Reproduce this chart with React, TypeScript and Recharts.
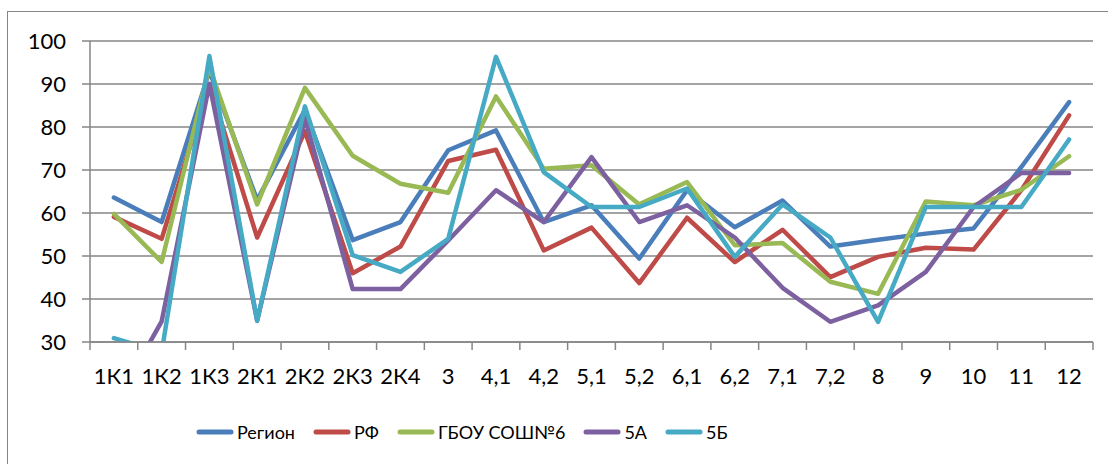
import { LineChart, Line, XAxis, YAxis, CartesianGrid, Legend } from "recharts";

const categories = [
  "1К1", "1К2", "1К3", "2К1", "2К2", "2К3", "2К4", "3", "4,1", "4,2", "5,1",
  "5,2", "6,1", "6,2", "7,1", "7,2", "8", "9", "10", "11", "12",
];

const region = [63.6, 57.9, 93, 63, 84, 53.7, 57.9, 74.6, 79.2, 57.9, 61.8, 49.4, 65.3, 56.7, 62.9, 52.2, 53.8, 55.2, 56.4, 70.7, 85.8];
const rf = [59.1, 54.0, 90, 54.3, 79, 46, 52.2, 72.1, 74.7, 51.3, 56.6, 43.7, 58.9, 48.6, 56.1, 45.1, 49.8, 51.9, 51.5, 65.3, 82.7];
const school = [59.8, 48.6, 94, 62, 89.1, 73.3, 66.8, 64.7, 87.1, 70.3, 71.1, 62, 67.2, 52.5, 53, 44, 41.2, 62.7, 61.8, 65.4, 73.2];
const class5a = [15, 34.8, 90, 35, 82, 42.3, 42.3, 53.6, 65.3, 57.9, 73, 57.9, 61.8, 54.3, 42.6, 34.7, 38.5, 46.3, 61.4, 69.3, 69.3];
const class5b = [30.9, 27.6, 96.5, 34.9, 84.8, 50.2, 46.3, 54, 96.3, 69.5, 61.4, 61.4, 65.7, 49.8, 62, 54.3, 34.7, 61.4, 61.4, 61.4, 77.1];

const yTicks = [30, 40, 50, 60, 70, 80, 90, 100];

const series = [
  { key: "region", name: "Регион", color: "#4A7EBB", values: region },
  { key: "rf", name: "РФ", color: "#BE4B48", values: rf },
  { key: "school", name: "ГБОУ СОШ№6", color: "#98B954", values: school },
  { key: "a", name: "5А", color: "#7D60A0", values: class5a },
  { key: "b", name: "5Б", color: "#46AAC5", values: class5b },
];

const data = categories.map((cat, i) => {
  const row: Record<string, string | number> = { cat };
  series.forEach((s) => (row[s.key] = s.values[i]));
  return row;
});

const FONT = "Lato, 'Open Sans', 'Liberation Sans', sans-serif";
const GRID = "#868686";

// excel-style category axis: tick marks sit between categories
const XTick = (props: any) => {
  const { x, y, payload, index, visibleTicksCount } = props;
  const half = payload?.offset || 1003 / 21 / 2;
  return (
    <g>
      <line x1={x - half} x2={x - half} y1={y - 8} y2={y} stroke={GRID} strokeWidth={1.5} />
      {index === visibleTicksCount - 1 && (
        <line x1={x + half} x2={x + half} y1={y - 8} y2={y} stroke={GRID} strokeWidth={1.5} />
      )}
      <text x={x} y={y + 34} textAnchor="middle" fill="#000" fontSize={22} fontFamily={FONT}>
        {payload.value}
      </text>
    </g>
  );
};

// legend keeps the series order of the source
const renderLegend = () => (
  <div style={{ display: "flex", alignItems: "center", height: 40, paddingLeft: 196 }}>
    {series.map((s) => (
      <div key={s.key} style={{ display: "flex", alignItems: "center", marginRight: 18 }}>
        <svg width={38} height={8} style={{ marginRight: 3 }}>
          <line x1={3} x2={35} y1={4} y2={4} stroke={s.color} strokeWidth={5} strokeLinecap="round" />
        </svg>
        <span style={{ fontFamily: FONT, fontSize: 18, color: "#000" }}>{s.name}</span>
      </div>
    ))}
  </div>
);

export default function App() {
  return (
    <div
      style={{
        position: "absolute",
        left: 0,
        top: 0,
        width: 1108,
        height: 464,
        overflow: "hidden",
        background: "#fff",
        fontFamily: FONT,
      }}
    >
      {/* chart frame, runs off the right and bottom like the source */}
      <div
        style={{
          position: "absolute",
          left: 7,
          top: 11,
          width: 1200,
          height: 600,
          border: `1.5px solid ${GRID}`,
        }}
      />
      <div style={{ position: "absolute", left: 0, top: 0 }}>
        <LineChart
          width={1108}
          height={464}
          data={data}
          margin={{ top: 41, right: 15, left: 0, bottom: 12 }}
        >
          <CartesianGrid vertical={false} stroke={GRID} strokeWidth={1.5} />
          <XAxis
            dataKey="cat"
            scale="band"
            interval={0}
            height={70}
            tickSize={8}
            tickMargin={0}
            tickLine={false}
            axisLine={{ stroke: GRID, strokeWidth: 1.5 }}
            tick={<XTick />}
          />
          <YAxis
            type="number"
            domain={[30, 100]}
            ticks={yTicks}
            allowDataOverflow
            width={90}
            tickSize={8}
            tickMargin={16}
            axisLine={{ stroke: GRID, strokeWidth: 1.5 }}
            tickLine={{ stroke: GRID, strokeWidth: 1.5 }}
            tick={{ fill: "#000", fontSize: 22, fontFamily: FONT }}
          />
          <Legend verticalAlign="bottom" align="left" height={40} content={renderLegend} />
          {series.map((s) => (
            <Line
              key={s.key}
              type="linear"
              dataKey={s.key}
              name={s.name}
              stroke={s.color}
              strokeWidth={4.5}
              strokeLinecap="round"
              strokeLinejoin="round"
              dot={false}
              activeDot={false}
              isAnimationActive={false}
            />
          ))}
        </LineChart>
      </div>
    </div>
  );
}
